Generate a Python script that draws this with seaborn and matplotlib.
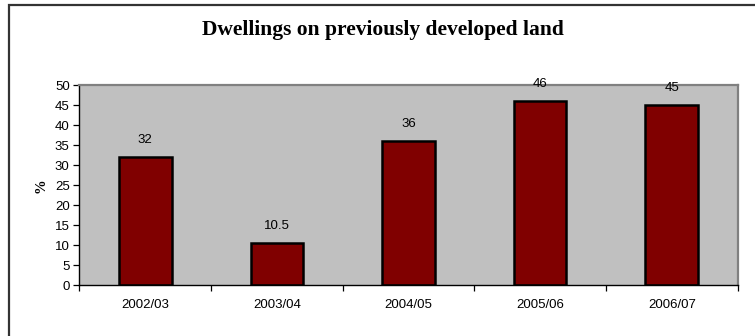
import matplotlib
matplotlib.use("Agg")
import matplotlib.pyplot as plt
from matplotlib.patches import Rectangle
from matplotlib.ticker import MultipleLocator, FixedLocator
import seaborn as sns
import pandas as pd

# Share of new dwellings built on previously developed land
years = ["2002/03", "2003/04", "2004/05", "2005/06", "2006/07"]
percent = [32, 10.5, 36, 46, 45]
value_labels = ["32", "10.5", "36", "46", "45"]

title = "Dwellings on previously developed land"
y_label = "%"

sns.set_theme(style="white")
plt.rcParams["font.family"] = ["Liberation Sans", "DejaVu Sans"]

df = pd.DataFrame({"year": years, "percent": percent})

fig = plt.figure(figsize=(7.55, 3.36), dpi=100)
fig.patch.set_facecolor("white")

ax = fig.add_axes([79.4 / 755, 1 - 285.3 / 336, 658.2 / 755, 200 / 336])
ax.set_facecolor("#C0C0C0")

sns.barplot(data=df, x="year", y="percent", color="#800000", saturation=1,
            edgecolor="black", linewidth=1.8, width=0.4, ax=ax)

ax.set_xlim(-0.5, len(years) - 0.5)
ax.set_ylim(0, 50)
ax.yaxis.set_major_locator(MultipleLocator(5))

# tick marks sit between the categories, labels under each bar
ax.xaxis.set_minor_locator(FixedLocator([i - 0.5 for i in range(len(years) + 1)]))
ax.tick_params(axis="x", which="major", length=0, pad=10, labelsize=9.5, colors="black")
ax.tick_params(axis="x", which="minor", length=4, width=0.9, color="black", direction="out", bottom=True)
ax.tick_params(axis="y", which="major", length=4, width=0.9, color="black", direction="out",
               left=True, pad=3, labelsize=9.5, labelcolor="black")

for side in ("left", "bottom"):
    ax.spines[side].set_color("black")
    ax.spines[side].set_linewidth(1.0)
for side in ("top", "right"):
    ax.spines[side].set_color("#808080")
    ax.spines[side].set_linewidth(1.6)
    ax.spines[side].set_visible(True)

ax.set_xlabel("")
ax.set_ylabel(y_label, fontweight="bold", family=["Liberation Serif", "DejaVu Serif"],
              fontsize=10.5, color="black")
ax.yaxis.set_label_coords(-0.049, 0.5)

for i, (v, lab) in enumerate(zip(percent, value_labels)):
    ax.annotate(lab, (i, v), xytext=(0, 17), textcoords="offset pixels",
                ha="center", va="center", fontsize=9.5, color="black",
                annotation_clip=False)

fig.text(383 / 755, 1 - 30 / 336, title, ha="center", va="center",
         fontsize=15.5, fontweight="bold", family=["Liberation Serif", "DejaVu Serif"],
         color="black")

# chart frame running off the right and bottom edges
fig.add_artist(Rectangle((8.7 / 755, -0.2), 1.2, 1.2 - 4.7 / 336,
                         transform=fig.transFigure, fill=False,
                         edgecolor="#333333", linewidth=1.6))

fig.savefig("out.png", dpi=100)
